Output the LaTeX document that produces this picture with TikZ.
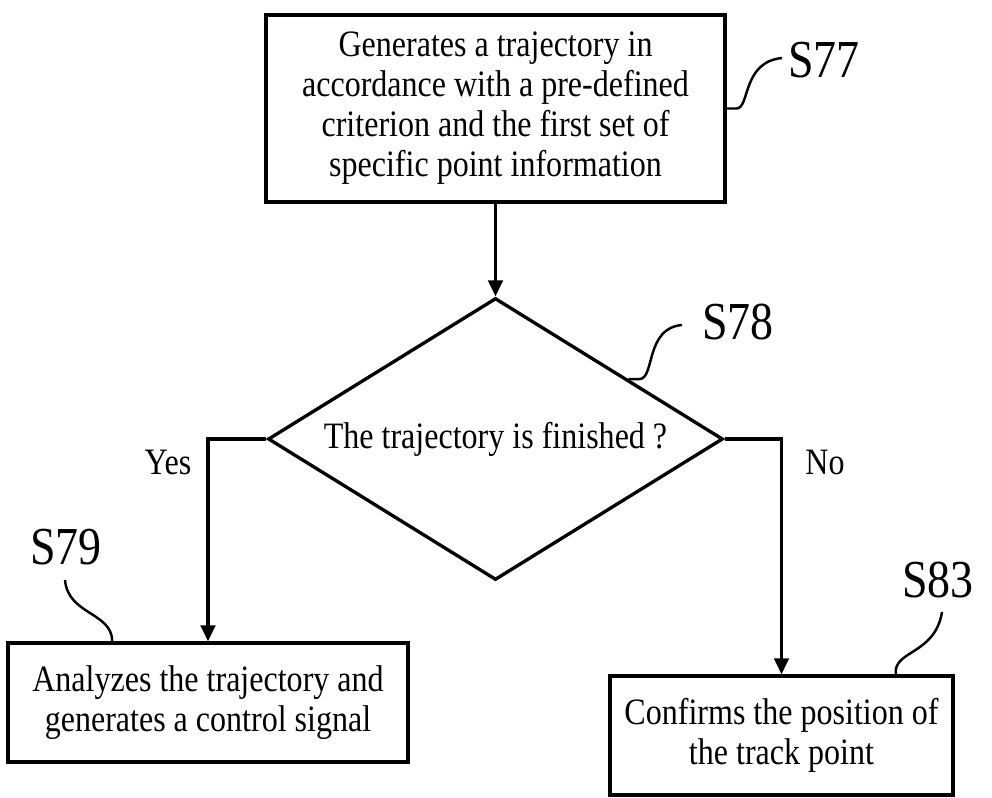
\documentclass[tikz,border=0pt]{standalone}
\usepackage{fontspec}
\setmainfont[FakeStretch=0.86]{Liberation Serif}
\usetikzlibrary{arrows.meta,shapes.geometric,calc}

\begin{document}
\begin{tikzpicture}[x=0.02cm, y=-0.02cm,
  box/.style={draw, line width=1.9pt, align=center, inner sep=0pt, font=\fontsize{21.2}{22.8}\selectfont},
  decision/.style={draw, diamond, line width=1.9pt, inner sep=0pt, aspect=1.6, minimum width=9.1cm, minimum height=5.64cm, font=\fontsize{21.2}{22.8}\selectfont},
  flow/.style={line width=1.9pt, -{Triangle[length=0.32cm,width=0.29cm]}},
  lead/.style={line width=1.4pt},
  tag/.style={inner sep=0pt, font=\fontsize{30.4}{32}\selectfont},
  answer/.style={inner sep=0pt, font=\fontsize{21.2}{22.8}\selectfont}]

\useasboundingbox (0,0) rectangle (992,798);

\node[box, minimum width=9.18cm, minimum height=3.74cm] (gen) at (495.5,108.5) {Generates a trajectory in\\ accordance with a pre-defined\\ criterion and the first set of\\ specific point information};
\node[decision] (done) at (495.5,439) {The trajectory is finished ?};
\node[box, minimum width=8cm, minimum height=2.38cm] (analyze) at (208,702.5) {Analyzes the trajectory and\\ generates a control signal};
\node[box, minimum width=6.86cm, minimum height=2.38cm] (confirm) at (781.5,735.5) {Confirms the position of\\ the track point};

\node[answer] (yes) at (168,462) {Yes};
\node[answer] (no) at (825,462) {No};

\node[tag] (s77) at (824,60) {S77};
\node[tag] (s78) at (738,322) {S78};
\node[tag] (s79) at (66,547) {S79};
\node[tag] (s83) at (938,580) {S83};

\coordinate (e77) at (782,58);
\coordinate (e78) at (682,325);
\coordinate (e79) at (65,580);
\coordinate (e83) at (942,612);

\draw[flow] (gen) -- (done);
\draw[flow] (done.west) -| (analyze.north);
\draw[flow] (done.east) -| (confirm.north);

\draw[lead] (gen.east) -- ++(10,0) .. controls (750,108) and (742,62) .. (e77);
\draw[lead] ($(done.north)!0.58!(done.east)$) -- ++(11,0) .. controls (655,379) and (645,328) .. (e78);
\draw[lead] ($(analyze.north west)!0.2625!(analyze.north east)$) .. controls (112,612) and (68,615) .. (e79);
\draw[lead] ($(confirm.north west)!0.83!(confirm.north east)$) .. controls (893,650) and (935,655) .. (e83);

\end{tikzpicture}
\end{document}
